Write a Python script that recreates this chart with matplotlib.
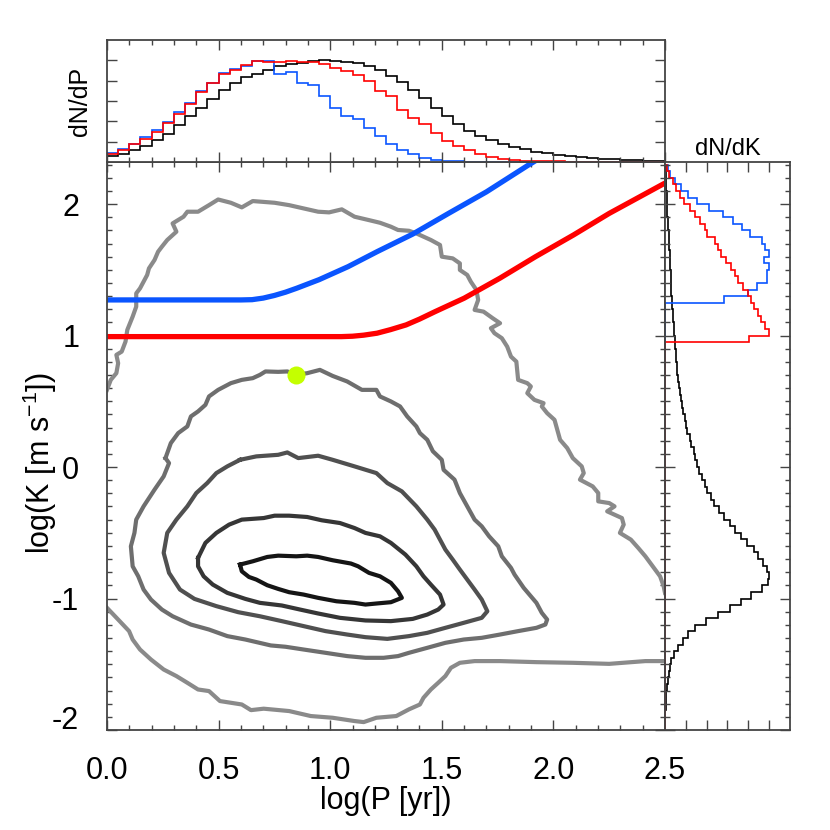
import numpy as np
import matplotlib
matplotlib.use('Agg')
import matplotlib.pyplot as plt
from matplotlib.ticker import MultipleLocator, FixedLocator, NullFormatter, FormatStrFormatter
from matplotlib.transforms import ScaledTranslation

plt.rcParams['font.family'] = ['Liberation Sans', 'DejaVu Sans']
plt.rcParams['mathtext.fontset'] = 'custom'
plt.rcParams['mathtext.rm'] = 'Liberation Sans'
plt.rcParams['mathtext.default'] = 'regular'
plt.rcParams['axes.unicode_minus'] = False

# ---- detection limits (log P, log K) ----
blue_x = [0.0, 0.60, 0.65, 0.70, 0.75, 0.80, 0.85, 0.95, 1.08, 1.21, 1.37, 1.53, 1.70, 1.89, 1.92]
blue_y = [1.271, 1.271, 1.273, 1.285, 1.305, 1.330, 1.360, 1.425, 1.524, 1.638, 1.772, 1.929, 2.093, 2.299, 2.33]
red_x = [0.0, 1.05, 1.10, 1.15, 1.21, 1.27, 1.34, 1.40, 1.47, 1.60, 1.76, 1.92, 2.09, 2.25, 2.50]
red_y = [0.992, 0.992, 0.995, 1.003, 1.018, 1.045, 1.081, 1.125, 1.182, 1.284, 1.436, 1.600, 1.765, 1.929, 2.160]

# ---- contours (outermost to innermost) ----
c1a_x = [0.0, 0.017, 0.042, 0.050, 0.042, 0.066, 0.083, 0.091, 0.115, 0.131, 0.131, 0.148, 0.164, 0.180,
         0.188, 0.213, 0.229, 0.246, 0.270, 0.311, 0.294, 0.343, 0.360, 0.408, 0.457, 0.498, 0.555, 0.604,
         0.653, 0.751, 0.816, 0.881, 0.946, 0.995, 1.052, 1.109, 1.174, 1.223, 1.272, 1.304, 1.353, 1.386,
         1.451, 1.492, 1.500, 1.549, 1.581, 1.581, 1.614, 1.630, 1.655, 1.663, 1.647, 1.687, 1.728, 1.761,
         1.720, 1.736, 1.769, 1.793, 1.810, 1.834, 1.842, 1.883, 1.899, 1.883, 1.915, 1.956, 1.948, 1.972,
         2.005, 2.030, 2.062, 2.087, 2.127, 2.136, 2.119, 2.176, 2.201, 2.201, 2.250, 2.274, 2.241, 2.307,
         2.315, 2.298, 2.347, 2.380, 2.412, 2.445, 2.478, 2.494, 2.50]
c1a_y = [0.587, 0.663, 0.714, 0.790, 0.853, 0.878, 0.954, 1.043, 1.144, 1.220, 1.321, 1.359, 1.410, 1.461,
         1.511, 1.575, 1.638, 1.676, 1.727, 1.790, 1.853, 1.904, 1.942, 1.942, 1.992, 2.035, 2.010, 1.975,
         2.023, 2.010, 1.992, 1.967, 1.942, 1.937, 1.960, 1.904, 1.878, 1.858, 1.828, 1.803, 1.797, 1.777,
         1.727, 1.689, 1.600, 1.587, 1.549, 1.499, 1.461, 1.410, 1.347, 1.271, 1.195, 1.182, 1.132, 1.094,
         1.056, 1.018, 0.980, 0.916, 0.840, 0.802, 0.663, 0.638, 0.613, 0.562, 0.511, 0.486, 0.461, 0.410,
         0.359, 0.207, 0.144, 0.068, 0.005, -0.046, -0.096, -0.147, -0.198, -0.261, -0.274, -0.299, -0.337,
         -0.388, -0.438, -0.501, -0.552, -0.615, -0.679, -0.755, -0.831, -0.907, -0.957]
c1b_x = [0.0, 0.050, 0.099, 0.115, 0.148, 0.197, 0.254, 0.311, 0.360, 0.408, 0.457, 0.506, 0.604, 0.645,
         0.702, 0.816, 0.913, 1.011, 1.109, 1.150, 1.207, 1.296, 1.353, 1.402, 1.418, 1.451, 1.484, 1.516,
         1.541, 1.581, 1.647, 1.761, 1.924, 2.087, 2.250, 2.412, 2.50]
c1b_y = [-1.071, -1.160, -1.248, -1.312, -1.388, -1.464, -1.540, -1.590, -1.641, -1.692, -1.704, -1.780,
         -1.806, -1.849, -1.838, -1.856, -1.894, -1.907, -1.932, -1.940, -1.907, -1.894, -1.843, -1.806,
         -1.755, -1.692, -1.641, -1.590, -1.527, -1.489, -1.476, -1.476, -1.484, -1.489, -1.497, -1.476, -1.476]

c2_x = [0.262, 0.286, 0.319, 0.360, 0.376, 0.408, 0.441, 0.457, 0.498, 0.555, 0.604, 0.653, 0.685, 0.710,
        0.767, 0.808, 0.848, 0.897, 0.954, 1.011, 1.076, 1.142, 1.207, 1.223, 1.272, 1.313, 1.345, 1.386,
        1.402, 1.435, 1.460, 1.500, 1.508, 1.557, 1.581, 1.614, 1.647, 1.679, 1.712, 1.753, 1.769, 1.810,
        1.826, 1.867, 1.899, 1.924, 1.948, 1.972, 1.964, 1.924, 1.842, 1.761, 1.679, 1.598, 1.516, 1.435,
        1.353, 1.304, 1.239, 1.158, 1.076, 0.979, 0.881, 0.800, 0.734, 0.620, 0.539, 0.457, 0.376, 0.294,
        0.246, 0.197, 0.164, 0.140, 0.115, 0.107, 0.123, 0.131, 0.164, 0.213, 0.254, 0.278]
c2_y = [0.068, 0.182, 0.258, 0.309, 0.385, 0.423, 0.473, 0.537, 0.587, 0.638, 0.663, 0.676, 0.701, 0.727,
        0.724, 0.727, 0.701, 0.714, 0.739, 0.693, 0.651, 0.587, 0.587, 0.537, 0.499, 0.461, 0.385, 0.309,
        0.258, 0.207, 0.120, 0.055, -0.021, -0.096, -0.198, -0.299, -0.400, -0.451, -0.527, -0.603, -0.679,
        -0.767, -0.818, -0.919, -0.983, -1.033, -1.109, -1.160, -1.198, -1.223, -1.248, -1.274, -1.299,
        -1.312, -1.337, -1.375, -1.413, -1.438, -1.451, -1.451, -1.438, -1.413, -1.388, -1.367, -1.357,
        -1.312, -1.286, -1.236, -1.198, -1.135, -1.084, -1.008, -0.932, -0.831, -0.755, -0.603, -0.501,
        -0.400, -0.299, -0.172, -0.071, 0.030]

c3_x = [0.596, 0.669, 0.767, 0.808, 0.857, 0.946, 1.011, 1.109, 1.207, 1.256, 1.321, 1.386, 1.435, 1.468,
        1.492, 1.516, 1.549, 1.581, 1.614, 1.647, 1.679, 1.704, 1.679, 1.598, 1.516, 1.435, 1.353, 1.256,
        1.158, 1.076, 0.979, 0.881, 0.783, 0.685, 0.588, 0.490, 0.392, 0.327, 0.278, 0.254, 0.270, 0.311,
        0.360, 0.400, 0.449, 0.490, 0.539]
c3_y = [0.055, 0.081, 0.093, 0.111, 0.068, 0.086, 0.055, 0.005, -0.046, -0.122, -0.185, -0.299, -0.400,
        -0.476, -0.552, -0.628, -0.704, -0.780, -0.856, -0.932, -1.008, -1.097, -1.147, -1.185, -1.223,
        -1.261, -1.286, -1.307, -1.294, -1.274, -1.248, -1.210, -1.172, -1.135, -1.104, -1.058, -1.003,
        -0.932, -0.805, -0.653, -0.501, -0.400, -0.299, -0.198, -0.122, -0.046, 0.005]

c4_x = [0.408, 0.441, 0.490, 0.547, 0.604, 0.702, 0.751, 0.816, 0.897, 0.962, 1.044, 1.109, 1.158, 1.223,
        1.272, 1.337, 1.386, 1.418, 1.451, 1.492, 1.508, 1.484, 1.435, 1.370, 1.272, 1.158, 1.044, 0.946,
        0.865, 0.783, 0.685, 0.620, 0.539, 0.474, 0.433, 0.408]
c4_y = [-0.691, -0.577, -0.501, -0.438, -0.400, -0.388, -0.370, -0.370, -0.380, -0.405, -0.426, -0.464,
        -0.501, -0.527, -0.577, -0.666, -0.755, -0.831, -0.894, -0.970, -1.046, -1.084, -1.122, -1.155,
        -1.172, -1.167, -1.147, -1.114, -1.084, -1.053, -1.033, -1.003, -0.957, -0.894, -0.831, -0.755]

c5_x = [0.596, 0.653, 0.718, 0.767, 0.848, 0.897, 0.946, 1.011, 1.093, 1.125, 1.174, 1.223, 1.272, 1.304,
        1.321, 1.272, 1.207, 1.158, 1.109, 1.028, 0.946, 0.881, 0.816, 0.767, 0.718, 0.669, 0.636, 0.604]
c5_y = [-0.742, -0.717, -0.684, -0.674, -0.679, -0.674, -0.684, -0.709, -0.734, -0.755, -0.805, -0.831,
        -0.881, -0.945, -0.995, -1.028, -1.038, -1.046, -1.033, -1.021, -0.995, -0.970, -0.952, -0.927,
        -0.899, -0.856, -0.836, -0.793]

contour_colors = ['#8a8a8a', '#6e6e6e', '#505050', '#363636', '#151515']

star_x, star_y = 0.848, 0.70

# ---- dN/dP histograms (bins of 0.05 in log P from 0 to 2.5) ----
p_black = [0.28, 0.38, 0.57, 0.81, 1.07, 1.37, 1.82, 2.25, 2.68, 3.10, 3.55, 3.90, 4.17, 4.33, 4.54, 4.70,
           4.82, 4.86, 4.98, 5.01, 4.98, 4.91, 4.85, 4.70, 4.51, 4.22, 3.95, 3.55, 3.13, 2.67, 2.27, 1.85,
           1.53, 1.26, 1.07, 0.91, 0.73, 0.62, 0.50, 0.42, 0.36, 0.30, 0.25, 0.20, 0.17, 0.14, 0.10, 0.09,
           0.06, 0.04]
p_red = [0.41, 0.60, 0.89, 1.13, 1.47, 1.90, 2.38, 2.86, 3.44, 3.87, 4.33, 4.54, 4.75, 4.98, 4.94, 4.94,
         4.96, 4.94, 4.91, 4.82, 4.62, 4.46, 4.27, 3.98, 3.50, 3.26, 2.57, 2.14, 1.87, 1.42, 1.02, 0.78,
         0.58, 0.38, 0.25, 0.17, 0.10, 0.07, 0.06, 0.04, 0.03, 0.02, 0.02, 0.01, 0.01, 0.01, 0.0, 0.0,
         0.0, 0.0]
p_blue = [0.43, 0.66, 0.90, 1.21, 1.58, 1.95, 2.44, 2.91, 3.47, 3.90, 4.38, 4.57, 4.70, 4.98, 4.96, 4.33,
          4.41, 3.90, 3.79, 3.23, 2.67, 2.27, 2.11, 1.69, 1.26, 0.89, 0.59, 0.38, 0.22, 0.10, 0.06, 0.04,
          0.02, 0.02, 0.01, 0.01, 0.0, 0.0, 0.0, 0.0, 0.0, 0.0, 0.0, 0.0, 0.0, 0.0, 0.0, 0.0, 0.0, 0.0]

# ---- dN/dK histograms (bins of 0.05 in log K from -2.0 to 2.3) ----
k_black = [0.01, 0.01, 0.02, 0.03, 0.05, 0.07, 0.10, 0.13, 0.18, 0.24, 0.31, 0.45, 0.62, 0.85, 1.10,
           1.45, 1.95, 2.55, 3.10, 3.65, 4.15, 4.65, 4.95, 5.01, 4.90, 4.70, 4.48, 4.25, 3.95, 3.65,
           3.35, 3.10, 2.85, 2.60, 2.35, 2.20, 2.03, 1.90, 1.76, 1.63, 1.55, 1.45, 1.37, 1.27, 1.19,
           1.08, 1.00, 0.94, 0.87, 0.82, 0.76, 0.70, 0.65, 0.62, 0.59, 0.57, 0.54, 0.51, 0.49, 0.47,
           0.44, 0.42, 0.40, 0.38, 0.36, 0.33, 0.31, 0.30, 0.28, 0.27, 0.25, 0.24, 0.22, 0.20, 0.19,
           0.17, 0.15, 0.14, 0.12, 0.11, 0.09, 0.08, 0.07, 0.05, 0.04, 0.03]
k_red_start = 0.95
k_red = [4.04, 5.01, 4.80, 4.61, 4.46, 4.29, 4.11, 4.00, 3.76, 3.52, 3.35, 3.16, 2.91, 2.71, 2.55, 2.39,
         2.04, 1.94, 1.67, 1.46, 1.19, 0.91, 0.71, 0.55, 0.39, 0.18, 0.11]
k_blue_start = 1.25
k_blue = [2.84, 4.00, 4.40, 4.88, 4.88, 5.01, 4.77, 5.01, 4.80, 4.64, 4.08, 3.71, 3.27, 2.79, 2.10, 1.56,
          1.11, 0.79, 0.50, 0.22, 0.14]

BLUE = '#0a55ff'
RED = '#ff0000'
FRAME = '#444444'

p_edges = np.linspace(0, 2.5, len(p_black) + 1)
k_edges = np.linspace(-2.0, 2.3, len(k_black) + 1)


def pad_k(vals, start):
    n0 = int(round((start + 2.0) / 0.05))
    out = np.zeros(len(k_black))
    out[n0:n0 + len(vals)] = vals
    return out


def frame(a):
    a.tick_params(which='both', direction='in', top=True, right=True, color=FRAME)
    a.tick_params(which='major', length=7, width=1.0)
    a.tick_params(which='minor', length=3.5, width=1.0)
    for s in a.spines.values():
        s.set_color(FRAME)
        s.set_linewidth(1.3)


fig = plt.figure(figsize=(8.3, 8.3), dpi=100)
ax = fig.add_axes([0.1289, 0.1205, 0.6723, 0.6843])
axp = fig.add_axes([0.1289, 0.8048, 0.6723, 0.1470])
axk = fig.add_axes([0.8012, 0.1205, 0.1506, 0.6843])

# main panel
lw_c = 3.0
ax.plot(c1a_x, c1a_y, color=contour_colors[0], lw=lw_c, solid_joinstyle='round')
ax.plot(c1b_x, c1b_y, color=contour_colors[0], lw=lw_c, solid_joinstyle='round')
for cx, cy, col in [(c2_x, c2_y, contour_colors[1]), (c3_x, c3_y, contour_colors[2]),
                    (c4_x, c4_y, contour_colors[3]), (c5_x, c5_y, contour_colors[4])]:
    ax.plot(cx + cx[:1], cy + cy[:1], color=col, lw=lw_c, solid_joinstyle='round')

ax.plot(blue_x, blue_y, color=BLUE, lw=3.8, solid_capstyle='butt')
ax.plot(red_x, red_y, color=RED, lw=3.8, solid_capstyle='butt')
ax.plot([star_x], [star_y], 'o', color='#c4ff00', ms=13, mec='none', zorder=5)

ax.set_xlim(0, 2.5)
ax.set_ylim(-2.0, 2.32)
ax.xaxis.set_major_locator(MultipleLocator(0.5))
ax.xaxis.set_minor_locator(MultipleLocator(0.1))
ax.xaxis.set_major_formatter(FormatStrFormatter('%.1f'))
ax.yaxis.set_major_locator(MultipleLocator(1))
ax.yaxis.set_minor_locator(MultipleLocator(0.1))
ax.yaxis.set_major_formatter(FormatStrFormatter('%d'))
frame(ax)
ax.tick_params(axis='x', labelsize=22, pad=19)
ax.tick_params(axis='y', labelsize=22, pad=20)
ax.set_xlabel('log(P [yr])', fontsize=22)
ax.set_ylabel(r'log(K [m s$^{-1}$])', fontsize=22)
ax.xaxis.set_label_coords(0.5, -0.125)
ax.xaxis.label.set_va('center')
ax.yaxis.set_label_coords(-0.12, 0.47)
ax.yaxis.label.set_va('center')

# top panel: dN/dP
axp.stairs(p_black, p_edges, color='black', lw=1.2, baseline=0)
axp.stairs(p_blue, p_edges, color=BLUE, lw=1.2, baseline=0)
axp.stairs(p_red, p_edges, color=RED, lw=1.2, baseline=0)
axp.set_xlim(0, 2.5)
axp.set_ylim(0, 6)
axp.xaxis.set_major_locator(MultipleLocator(0.5))
axp.xaxis.set_minor_locator(MultipleLocator(0.1))
axp.yaxis.set_major_locator(FixedLocator([1, 2, 3, 4, 5]))
axp.xaxis.set_major_formatter(NullFormatter())
axp.yaxis.set_major_formatter(NullFormatter())
frame(axp)
axp.set_ylabel('dN/dP', fontsize=18)
axp.yaxis.set_label_coords(-0.048, 0.5)
axp.yaxis.label.set_va('center')

# right panel: dN/dK
axk.stairs(k_black, k_edges, orientation='horizontal', color='black', lw=1.2, baseline=0)
axk.stairs(pad_k(k_blue, k_blue_start), k_edges, orientation='horizontal', color=BLUE, lw=1.2, baseline=0)
axk.stairs(pad_k(k_red, k_red_start), k_edges, orientation='horizontal', color=RED, lw=1.2, baseline=0)
axk.set_xlim(0, 6)
axk.set_ylim(-2.0, 2.32)
axk.xaxis.set_major_locator(FixedLocator([1, 2, 3, 4, 5]))
axk.yaxis.set_major_locator(MultipleLocator(1))
axk.yaxis.set_minor_locator(MultipleLocator(0.1))
axk.xaxis.set_major_formatter(NullFormatter())
axk.yaxis.set_major_formatter(NullFormatter())
frame(axk)
axk.set_title('dN/dK', fontsize=17, pad=5)

# the lowest y label sits slightly above its tick
fig.canvas.draw()
for t in ax.yaxis.get_major_ticks():
    if t.get_loc() == -2:
        t.label1.set_transform(t.label1.get_transform() + ScaledTranslation(0, 9 / 72, fig.dpi_scale_trans))

fig.savefig('out.png', dpi=100)
